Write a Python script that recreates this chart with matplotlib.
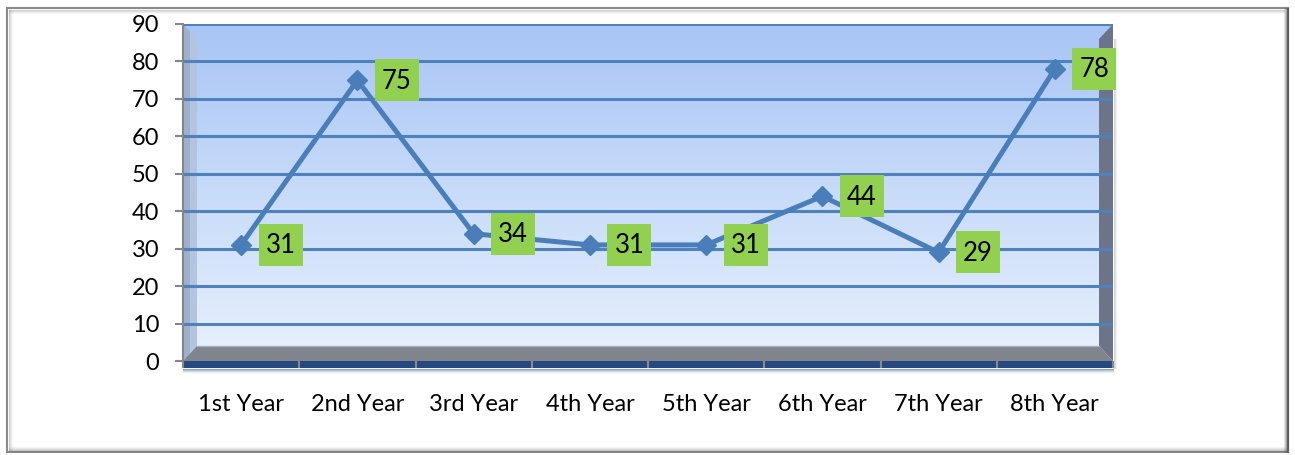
import numpy as np
import matplotlib
matplotlib.use("Agg")
import matplotlib.pyplot as plt
from matplotlib.colors import LinearSegmentedColormap
from matplotlib.patches import Polygon, Rectangle
from matplotlib.lines import Line2D
from matplotlib.transforms import ScaledTranslation

# data
categories = ["1st Year", "2nd Year", "3rd Year", "4th Year",
              "5th Year", "6th Year", "7th Year", "8th Year"]
values = [31, 75, 34, 31, 31, 44, 29, 78]
y_ticks = [0, 10, 20, 30, 40, 50, 60, 70, 80, 90]

W, H = 1295, 455
plt.rcParams['font.family'] = ['Lato', 'DejaVu Sans']

fig = plt.figure(figsize=(W / 100, H / 100), dpi=100)


def fx(x):
    return x / W


def fy(y):
    return (H - y) / H


# outer chart frame with soft shadow
for i, a in enumerate([0.35, 0.22, 0.12, 0.06]):
    fig.add_artist(Line2D([fx(9 + i), fx(9 + i)], [fy(10), fy(450)], color='gray', alpha=a, lw=0.8))
    fig.add_artist(Line2D([fx(9), fx(1284)], [fy(10 + i), fy(10 + i)], color='gray', alpha=a, lw=0.8))
for i, a in enumerate([0.9, 0.7, 0.5, 0.3, 0.15]):
    fig.add_artist(Line2D([fx(1288 - i), fx(1288 - i)], [fy(8), fy(452)], color='#555555', alpha=a, lw=0.8))
    fig.add_artist(Line2D([fx(9), fx(1288)], [fy(451 - i), fy(451 - i)], color='#777777', alpha=a * 0.5, lw=0.8))
fig.add_artist(Rectangle((fx(7), fy(452)), fx(1281), 444 / H, fill=False,
                         edgecolor='#8a8a8a', lw=1.5))

# plot area (front plane) in pixels: x 183..1113, y 24..361
ax = fig.add_axes([fx(183), fy(361), fx(930), 337 / H])

grad = np.linspace(0, 1, 256).reshape(-1, 1)
cmap = LinearSegmentedColormap.from_list('wall', ['#a8c5f5', '#e8f1fd'])
ax.imshow(grad, extent=[0, 8, 0, 90], aspect='auto', cmap=cmap, zorder=0)
ax.set_xlim(0, 8)
ax.set_ylim(0, 90)

dx, dy = 14 / 930, 15 / 337
# side walls
ax.add_patch(Polygon([(0, 0), (dx, dy), (dx, 1 - dy), (0, 1)], closed=True,
                     transform=ax.transAxes, facecolor='#b4c3de', edgecolor='none', zorder=1))
ax.add_patch(Polygon([(0, 0), (dx * 0.5, dy * 0.5), (dx * 0.5, 1 - dy * 0.5), (0, 1)], closed=True,
                     transform=ax.transAxes, facecolor='#9fb0cf', edgecolor='none', zorder=1))
ax.add_patch(Polygon([(1, 0), (1 - dx, dy), (1 - dx, 1 - dy), (1, 1)], closed=True,
                     transform=ax.transAxes, facecolor='#6b7489', edgecolor='none', zorder=1))
# floor
ax.add_patch(Polygon([(0, 0), (1, 0), (1 - dx, dy), (dx, dy)], closed=True,
                     transform=ax.transAxes, facecolor='#80848c', edgecolor='none', zorder=1))
ax.add_artist(Line2D([dx, 1 - dx], [dy, dy], transform=ax.transAxes, color='#a9adb4', lw=1, zorder=1))
# dark front edge of floor + shadow
ax.add_patch(Rectangle((0, -7 / 337), 1, 7 / 337, transform=ax.transAxes, clip_on=False,
                       facecolor='#264a80', edgecolor='none', zorder=1))
for i, a in enumerate([0.5, 0.3, 0.18, 0.08]):
    ax.add_artist(Line2D([0, 1], [-(8 + i) / 337] * 2, transform=ax.transAxes, clip_on=False,
                         color='#264a80', alpha=a, lw=0.8, zorder=1))
for i, a in enumerate([0.25, 0.15, 0.08]):
    ax.add_artist(Line2D([1 + (1 + i) / 930] * 2, [-7 / 337, 1 - dy], transform=ax.transAxes,
                         clip_on=False, color='#555555', alpha=a, lw=0.8, zorder=1))

# gridlines
for t in y_ticks[1:]:
    ax.axhline(t, color='#4f81bd', lw=2.2, zorder=2)

# series line
xs = np.arange(len(values)) + 0.5
ax.plot(xs, values, color='#4a7ebb', lw=3.6, marker='D', markersize=10,
        markeredgecolor='#4a7ebb', zorder=4, clip_on=False)

# data labels: green boxes to the right of points
box = [(-22, -20.5), (22, -20.5), (22, 20.5), (-22, 20.5), (-22, -20.5)]
off = ax.transData + ScaledTranslation(0.395, 0, fig.dpi_scale_trans)
ax.plot(xs, values, linestyle='none', marker=box, markersize=31.7, markerfacecolor='#92d050',
        markeredgewidth=0, transform=off, zorder=5, clip_on=False)
for x, v in zip(xs, values):
    ax.annotate(str(v), xy=(x, v), xytext=(39.5, -1), textcoords='offset pixels',
                ha='center', va='center', fontsize=18.5, color='black', zorder=6)

# axes styling
for s in ['top', 'right', 'bottom']:
    ax.spines[s].set_visible(False)
ax.spines['left'].set_color('#868686')
ax.spines['left'].set_linewidth(1.5)
ax.spines['left'].set_zorder(3)

ax.set_yticks(y_ticks)
ax.set_yticklabels([str(t) for t in y_ticks], fontsize=17)
ax.tick_params(axis='y', length=6, width=1.5, color='#868686', pad=11)

ax.set_xticks(xs)
ax.set_xticklabels(categories, fontsize=17)
ax.set_xticks(np.arange(0, 9), minor=True)
ax.tick_params(axis='x', which='major', length=0, pad=24)
ax.tick_params(axis='x', which='minor', length=5, width=1.5, color='#8a8a8a')

fig.savefig('out.png', dpi=100)
